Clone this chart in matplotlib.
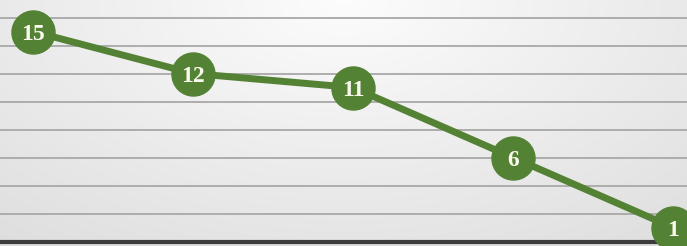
import numpy as np
import matplotlib
matplotlib.use("Agg")
import matplotlib.pyplot as plt

# data
categories = ["A", "B", "C", "D", "E"]
values = [15, 12, 11, 6, 1]

green = "#548235"

fig = plt.figure(figsize=(6.87, 2.46), dpi=100)
fig.patch.set_facecolor("#dedede")
ax = fig.add_axes([0, 0.018, 1, 0.982])

# soft background shading, light at the top middle
gx, gy = np.meshgrid(np.linspace(-1, 1, 300), np.linspace(0, 1, 120))
r = np.sqrt((gx * 0.8) ** 2 + ((1 - gy) * 1.0) ** 2)
shade = 0.99 - 0.12 * np.clip(r, 0, 1.3) / 1.3
ax.imshow(np.dstack([shade] * 3), extent=[0, 1, 0, 1], transform=ax.transAxes,
          origin="lower", aspect="auto", zorder=0)

x = np.arange(len(categories))
ax.plot(x, values, color=green, lw=5, marker="o", markersize=31,
        markerfacecolor=green, markeredgecolor=green, zorder=5, clip_on=False)
for xi, v in zip(x, values):
    ax.text(xi, v, str(v), ha="center", va="center_baseline", color="#f8f8ec",
            fontsize=17, fontweight="bold", family="Liberation Serif", zorder=6)

ax.set_xlim(-0.206, 4.0875)
ax.set_ylim(0, 17.25)
ax.set_yticks(range(2, 17, 2))
ax.set_xticks([])
ax.tick_params(left=False, labelleft=False)
ax.grid(axis="y", color="#a8a8a8", lw=1.3)
ax.set_axisbelow(True)
for s in ["top", "left", "right"]:
    ax.spines[s].set_visible(False)
ax.spines["bottom"].set_color("#3c3c3c")
ax.spines["bottom"].set_linewidth(3)
ax.spines["bottom"].set_zorder(4)

fig.savefig("out.png", dpi=100)
